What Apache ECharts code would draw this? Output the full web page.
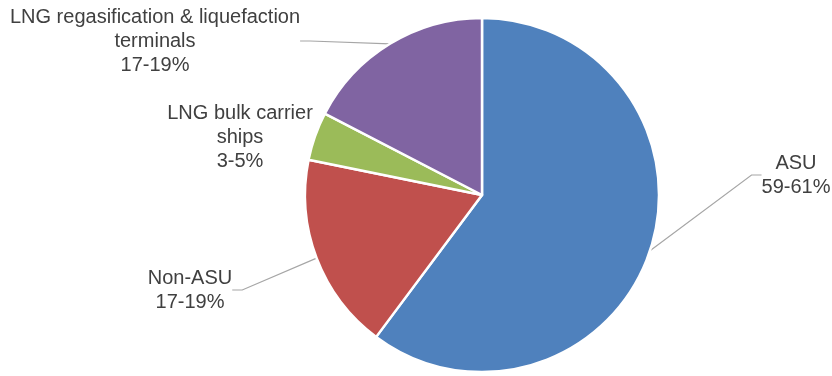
<!DOCTYPE html>
<html><head><meta charset="utf-8">
<script src="https://cdn.jsdelivr.net/npm/echarts@6/dist/echarts.min.js"></script>
<style>html,body{margin:0;padding:0;background:#fff}#c{width:832px;height:376px}</style>
</head><body><div id="c"></div>
<script>
const categories = ['ASU', 'Non-ASU', 'LNG bulk carrier\nships', 'LNG regasification & liquefaction\nterminals'];
const values = [60.2, 18, 4.4, 17.4];
const ranges = ['59-61%', '17-19%', '3-5%', '17-19%'];
const colors = ['#4F81BD', '#C0504D', '#9BBB59', '#8064A2'];
const labelPos = [[796, 175], [190, 290], [240, 137], [155, 41]];

const chart = echarts.init(document.getElementById('c'), null, {renderer: 'canvas'});
chart.setOption({
  animation: false,
  series: [{
    type: 'pie',
    center: [482, 195],
    radius: 177,
    startAngle: 90,
    clockwise: true,
    data: categories.map((n, i) => ({
      name: n, value: values[i], itemStyle: {color: colors[i]},
      labelLine: {show: i !== 2}
    })),
    itemStyle: {borderColor: '#fff', borderWidth: 2.5},
    label: {
      show: true,
      formatter: p => p.name + '\n' + ranges[p.dataIndex],
      fontFamily: 'Liberation Sans, Arial, sans-serif',
      fontSize: 20,
      lineHeight: 24,
      color: '#404040',
      align: 'center'
    },
    labelLine: {show: true, length: 20, length2: 10, lineStyle: {color: '#a6a6a6', width: 1.2}},
    labelLayout: p => ({x: labelPos[p.dataIndex][0], y: labelPos[p.dataIndex][1], align: 'center', verticalAlign: 'middle'})
  }]
});
</script></body></html>
